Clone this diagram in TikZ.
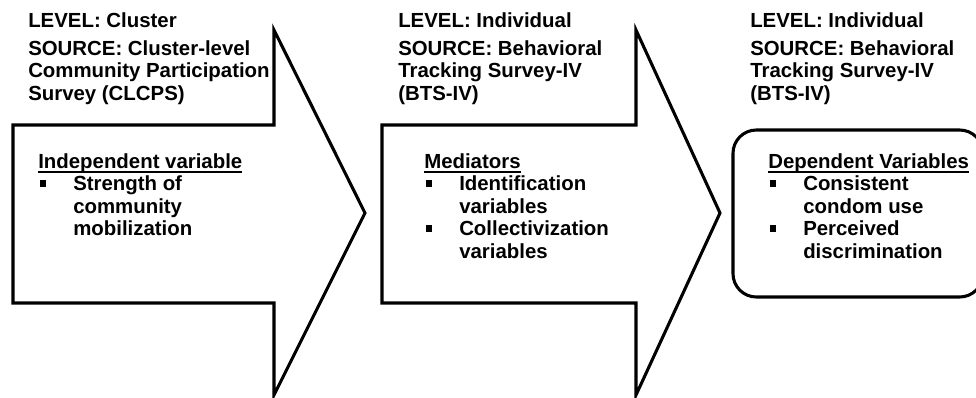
\documentclass[tikz,border=0pt]{standalone}
\usepackage{fontspec}
\setmainfont{Liberation Sans}
\begin{document}
% square bullet and short underline used in the variable lists
\newcommand\sqb{\raisebox{3pt}{\rule{4.6pt}{4.6pt}}}
\newcommand\hdul[1]{\leavevmode\setbox0\hbox{#1}\rlap{\rule[-3.6pt]{\wd0}{1.2pt}}\box0}
% list entry with hanging indent; lines inside are split with \newline
\newcommand\bitem[1]{\par\hangindent=26.25pt\hangafter=1\noindent\makebox[26.25pt][l]{\hspace{1pt}\sqb}#1}
\begin{tikzpicture}[x=0.75pt,y=-0.75pt,
  stage/.style={draw=black,line width=2.3pt,line join=miter,fill=white},
  txt/.style={anchor=base west,inner sep=0pt,font=\bfseries\fontsize{15.3pt}{16.9pt}\selectfont},
]
\useasboundingbox[fill=white] (0,0) rectangle (976,397);

% first block arrow
\draw[stage] (13,125) -- (274,125) -- (274,30) -- (365,213) -- (274,395)
  -- (274,303) -- (13,303) -- cycle;
% second block arrow
\draw[stage] (382,125) -- (636,125) -- (636,30) -- (720,213) -- (636,395)
  -- (636,303) -- (382,303) -- cycle;
% outcome box, running past the right edge
\draw[stage,rounded corners=17.5pt] (733,130) rectangle (983,297);

% level / source headers
\node[txt] (lv1) at (28,27) {LEVEL: Cluster};
\node[txt] (src1) at (28,55) {\parbox[t]{250pt}{\raggedright SOURCE: Cluster-level\\Community Participation\\Survey (CLCPS)}};
\node[txt] (lv2) at (398,27) {LEVEL: Individual};
\node[txt] (src2) at (398,55) {\parbox[t]{250pt}{\raggedright SOURCE: Behavioral\\Tracking Survey-IV\\(BTS-IV)}};
\node[txt] (lv3) at (750,27) {LEVEL: Individual};
\node[txt] (src3) at (750,55) {\parbox[t]{250pt}{\raggedright SOURCE: Behavioral\\Tracking Survey-IV\\(BTS-IV)}};

% variable lists
\node[txt] (iv) at (38,168) {\parbox[t]{200pt}{\raggedright\hdul{Independent variable}
  \bitem{Strength of\newline community\newline mobilization}}};
\node[txt] (med) at (424,168) {\parbox[t]{200pt}{\raggedright\hdul{Mediators}
  \bitem{Identification\newline variables}
  \bitem{Collectivization\newline variables}}};
\node[txt] (dv) at (768,168) {\parbox[t]{200pt}{\raggedright\hdul{Dependent Variables}
  \bitem{Consistent\newline condom use}
  \bitem{Perceived\newline discrimination}}};
\end{tikzpicture}
\end{document}
